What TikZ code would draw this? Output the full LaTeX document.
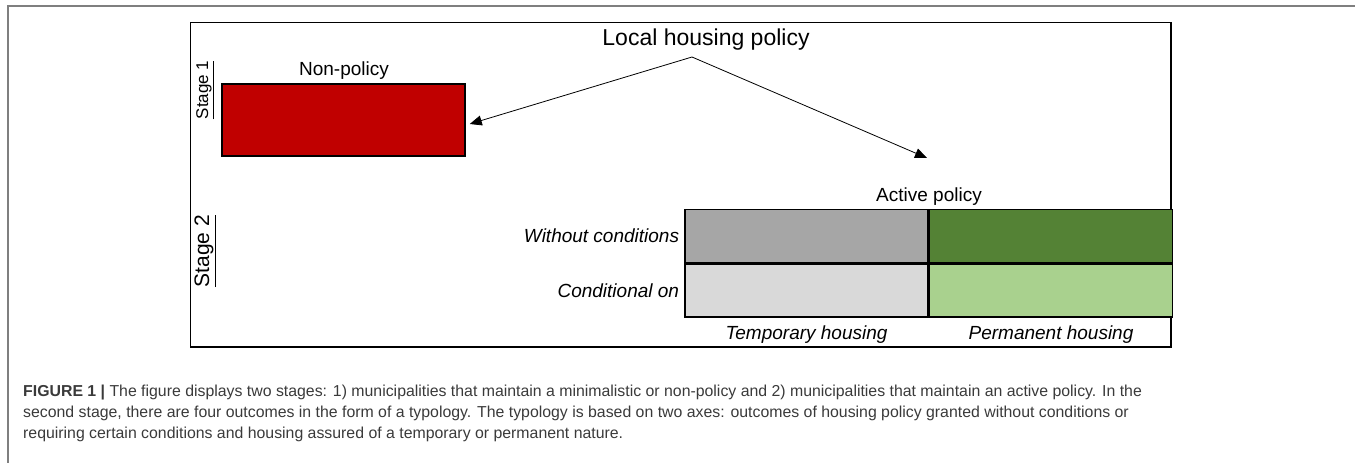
\documentclass[tikz,border=0pt]{standalone}
\usepackage{fontspec}
\setsansfont{Liberation Sans}
\usetikzlibrary{arrows.meta,positioning}

\definecolor{nonred}{HTML}{C00000}
\definecolor{tempfreegray}{HTML}{A6A6A6}
\definecolor{tempcondgray}{HTML}{D9D9D9}
\definecolor{permfreegreen}{HTML}{548235}
\definecolor{permcondgreen}{HTML}{A9D18E}
\definecolor{framegray}{HTML}{7F7F7F}
\definecolor{captiongray}{HTML}{3A3A3A}

\begin{document}
\begin{tikzpicture}[x=1pt, y=-1pt, font=\sffamily,
    lbl/.style={inner sep=0pt},
    cell/.style={draw, line width=1.5pt, minimum width=243pt, minimum height=53pt, inner sep=0pt},
    stagelbl/.style={inner sep=0pt, rotate=90, font=\sffamily\fontsize{17}{20}\selectfont},
    pointer/.style={line width=0.8pt, -{Triangle[length=12pt, width=10pt]}},
    caption/.style={inner sep=0pt, anchor=base west, text=captiongray, font=\sffamily\fontsize{15.85}{21}\selectfont}]
    \useasboundingbox (0,0) rectangle (1355,463);

    % Page frame
    \draw[framegray, line width=1.5pt] (8,463) -- (8,6) -- (1355,6);

    % Figure frame
    \draw[line width=1pt] (190,22) rectangle (1171,347);
    \draw[line width=2.5pt] (1171,22) -- (1171,347) -- (190,347);

    % Title and the two branches
    \node[lbl, font=\sffamily\fontsize{23}{27}\selectfont] (title) at (706,40) {Local housing policy};
    \coordinate (split) at (692,57);

    % Stage 1
    \node[stagelbl] (stage1) at (205,90) {\underline{Stage 1}};
    \node[draw, line width=1.5pt, fill=nonred, minimum width=243pt, minimum height=72pt, inner sep=0pt] (nonpol) at (343.5,120) {};
    \node[lbl, font=\sffamily\fontsize{19}{22}\selectfont] (nonpollbl) at (344,71) {Non-policy};
    \draw[pointer] (split) -- ([shift={(4,4)}]nonpol.east);

    % Stage 2
    \node[stagelbl, font=\sffamily\fontsize{21}{24}\selectfont] (stage2) at (205,251) {\underline{Stage 2}};
    \coordinate (activetip) at (927,158);
    \draw[pointer] (split) -- (activetip);
    \node[lbl, font=\sffamily\fontsize{19}{22}\selectfont] (active) at (929,197) {Active policy};

    % Typology grid
    \node[cell, fill=tempfreegray] (tempfree) at (806.5,236) {};
    \node[cell, fill=permfreegreen, right=0pt of tempfree] (permfree) {};
    \node[cell, fill=tempcondgray, below=0pt of tempfree] (tempcond) {};
    \node[cell, fill=permcondgreen, right=0pt of tempcond] (permcond) {};

    % Axis labels
    \begin{scope}[font=\sffamily\itshape\fontsize{19}{22}\selectfont]
        \node[lbl, anchor=east] (free) at ([xshift=-5pt]tempfree.west) {Without conditions};
        \node[lbl, anchor=east] (cond) at ([xshift=-5pt]tempcond.west) {Conditional on};
        \node[lbl] (temp) at ([yshift=-17pt]tempcond.south) {Temporary housing};
        \node[lbl] (perm) at ([yshift=-17pt]permcond.south) {Permanent housing};
    \end{scope}

    % Caption
    \node[caption] (cap1) at (23,396) {\textbf{FIGURE 1 |} The figure displays two stages: 1) municipalities that maintain a minimalistic or non-policy and 2) municipalities that maintain an active policy. In the};
    \node[caption] (cap2) at (23,417) {second stage, there are four outcomes in the form of a typology. The typology is based on two axes: outcomes of housing policy granted without conditions or};
    \node[caption] (cap3) at (23,438) {requiring certain conditions and housing assured of a temporary or permanent nature.};

\end{tikzpicture}
\end{document}
